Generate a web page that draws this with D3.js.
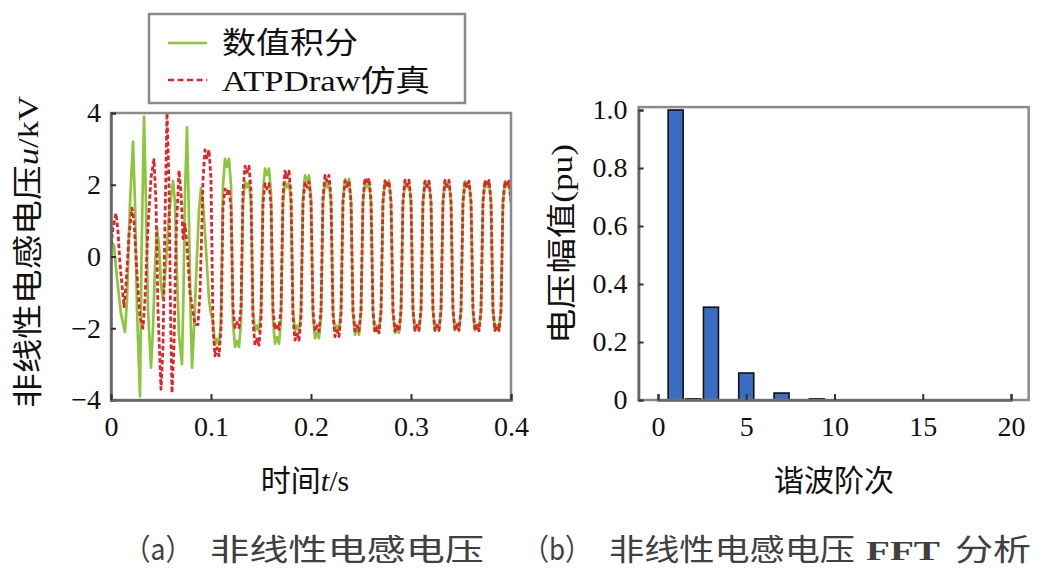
<!DOCTYPE html>
<html><head><meta charset="utf-8">
<script src="https://cdn.jsdelivr.net/npm/d3@7"></script>
<style>
html,body{margin:0;padding:0;background:#fff;}
svg{display:block;}
.cjk{font-family:"Liberation Serif","Noto Sans CJK SC",serif;}
</style>
</head><body>
<svg id="chart" width="1044" height="573"></svg>
<script>
// ---------------- DATA ----------------
// (a) time axis ticks (s) and voltage ticks (kV)
const timeTicks = [0, 0.1, 0.2, 0.3, 0.4];
const timeTickLabels = ["0", "0.1", "0.2", "0.3", "0.4"];
const voltTicks = [-4, -2, 0, 2, 4];
const voltTickLabels = ["\u22124", "\u22122", "0", "2", "4"];

// Numerical integration (green) – transient part: [time ms, u kV]
const greenEarly = [
  [0,0.45],[3,0.3],[6,-0.6],[10,-1.6],[14,-2.1],[16,-1.2],[19,1.5],[22,3.2],[24,1.5],[26,-1.5],
  [29,-3.9],[30.5,0],[33,3.9],[35,1.5],[37,-1.5],[40,-3.1],[42,-2.0],[44,-0.3],[46,0.8],[48,0.3],
  [50,-0.8],[52,-1.2],[55,-0.2],[58,1.2],[62,2.1],[64,1.5],[66,-0.5],[68,-2.2],[71,-3.0],[72.5,-1.0],
  [74,1.8],[76,3.6],[78,1.0],[79.5,-1.5],[81,-3.1],[83,-2.0],[86,0.0],[88,1.3],[90,1.9],[92,1.5],
  [95,0.2],[98,-1.2],[100,-1.6]
];
// Numerical integration (green) – later part, sampled every 2 ms from 102 ms
const greenLateStart = 102;
const greenLate = [
  -1.8,-2.47,-2.3,-2.47,-1.8,   1.98,2.72,2.5,2.72,1.98,
  -1.84,-2.52,-2.35,-2.52,-1.84, 1.51,2.08,1.93,2.08,1.51,
  -1.51,-2.08,-1.93,-2.08,-1.51, 1.78,2.45,2.27,2.45,1.78,
  -1.76,-2.43,-2.25,-2.43,-1.76, 1.51,2.08,1.93,2.08,1.51,
  -1.51,-2.08,-1.93,-2.08,-1.51, 1.64,2.26,2.1,2.26,1.64,
  -1.66,-2.28,-2.12,-2.28,-1.66, 1.51,2.08,1.93,2.08,1.51,
  -1.51,-2.08,-1.93,-2.08,-1.51, 1.57,2.16,2.0,2.16,1.57,
  -1.58,-2.18,-2.02,-2.18,-1.58, 1.51,2.08,1.93,2.08,1.51,
  -1.51,-2.08,-1.93,-2.08,-1.51, 1.54,2.12,1.97,2.12,1.54,
  -1.55,-2.13,-1.98,-2.13,-1.55, 1.51,2.08,1.93,2.08,1.51,
  -1.5,-2.06,-1.91,-2.06,-1.5,   1.52,2.1,1.94,2.1,1.52,
  -1.5,-2.06,-1.91,-2.06,-1.5,   1.52,2.1,1.94,2.1,1.52,
  -1.5,-2.06,-1.91,-2.06,-1.5,   1.52,2.1,1.94,2.1,1.52,
  -1.5,-2.06,-1.91,-2.06,-1.5,   1.52,2.1,1.94,2.1,1.52,
  -1.5,-2.06,-1.91,-2.06,-1.5,   1.52,2.1,1.94,2.1,1.52
];

// ATPDraw simulation (red dashed) – transient part: [time ms, u kV]
const redEarly = [
  [0,0.3],[2,0.8],[5,1.2],[7,0.7],[9,-0.2],[13,-1.4],[15,-0.8],[18,0.6],[21,1.35],[23,1.0],
  [26,-0.5],[29,-1.7],[32,-2.0],[34,-1.2],[37,0.8],[40,2.2],[43,2.7],[45,1.5],[47,-1.5],[50,-3.7],
  [52,-2.5],[54,1.0],[56,4.0],[58,2.0],[59.5,-1.5],[61,-3.8],[63,-2.5],[65,0.5],[68,2.4],[70,1.8],
  [72,0.5],[74,0.9],[76,0.3],[79,-1.0],[84,-1.9],[87,-1.9],[89,-1.0],[91,1.0]
];
// ATPDraw simulation (red dashed) – later part, sampled every 2 ms from 92 ms
const redLateStart = 92;
const redLate = [
  2.16,2.97,2.75,2.97,2.16,      -2.0,-2.77,-2.55,-2.77,-2.0,
  1.37,1.88,1.75,1.88,1.37,      -1.44,-1.98,-1.84,-1.98,-1.44,
  1.84,2.52,2.35,2.52,1.84,      -1.8,-2.47,-2.3,-2.47,-1.8,
  1.48,2.03,1.89,2.03,1.48,      -1.48,-2.03,-1.89,-2.03,-1.48,
  1.73,2.38,2.2,2.38,1.73,       -1.69,-2.33,-2.16,-2.33,-1.69,
  1.51,2.08,1.93,2.08,1.51,      -1.51,-2.08,-1.93,-2.08,-1.51,
  1.64,2.26,2.1,2.26,1.64,       -1.62,-2.23,-2.07,-2.23,-1.62,
  1.53,2.1,1.95,2.1,1.53,        -1.51,-2.08,-1.93,-2.08,-1.51,
  1.58,2.18,2.02,2.18,1.58,      -1.55,-2.13,-1.98,-2.13,-1.55,
  1.53,2.1,1.95,2.1,1.53,        -1.51,-2.08,-1.93,-2.08,-1.51,
  1.55,2.13,1.98,2.13,1.55,      -1.5,-2.06,-1.92,-2.06,-1.5,
  1.53,2.1,1.95,2.1,1.53,        -1.5,-2.06,-1.92,-2.06,-1.5,
  1.54,2.12,1.96,2.12,1.54,      -1.5,-2.06,-1.9,-2.06,-1.5,
  1.53,2.1,1.95,2.1,1.53,        -1.5,-2.07,-1.92,-2.07,-1.5,
  1.54,2.12,1.97,2.12,1.54,      -1.5,-2.06,-1.92,-2.06,-1.5,
  1.53,2.1,1.96,2.1,1.53
];
const lateStep = 2; // ms

// (b) FFT harmonics
const harmonicOrders = [1,2,3,4,5,6,7,8,9,10,11,12,13,14,15,16,17,18,19,20];
const harmonicAmps   = [1.0,0.004,0.32,0,0.093,0,0.024,0,0.004,0,0,0,0,0,0,0,0,0,0,0];
const orderTicks = [0, 5, 10, 15, 20];
const ampTicks = [0, 0.2, 0.4, 0.6, 0.8, 1.0];
const ampTickLabels = ["0", "0.2", "0.4", "0.6", "0.8", "1.0"];

const legendLabels = ["数值积分", "ATPDraw仿真"];
const captionA = ["（a）", "非线性电感电压"];
const captionB = ["（b）", "非线性电感电压", "FFT", "分析"];

// ---------------- DRAW ----------------
const svg = d3.select("#chart");
const GREEN = "#8cc63f", RED = "#e3232b", FRAME = "#8a8a8a", AXIS = "#666";

// ---- Panel (a) ----
const xL = d3.scaleLinear().domain([0, 0.4]).range([111, 511]);
const yL = d3.scaleLinear().domain([-4, 4]).range([400, 113]);

svg.append("defs").append("clipPath").attr("id","clipL")
  .append("rect").attr("x",xL(0)).attr("y",yL(4)-3).attr("width",xL(0.4)-xL(0)).attr("height",yL(-4)-yL(4)+6);

const greenData = greenEarly.concat(greenLate.map((u,i)=>[greenLateStart + i*lateStep, u]));
const redData = redEarly.concat(redLate.map((u,i)=>[redLateStart + i*lateStep, u]));
const line = d3.line().x(d=>xL(d[0]/1000)).y(d=>yL(d[1]));

const gL = svg.append("g").attr("clip-path","url(#clipL)");
gL.append("path").datum(greenData).attr("d",line)
  .attr("fill","none").attr("stroke",GREEN).attr("stroke-width",2.7).attr("stroke-linejoin","round");
gL.append("path").datum(redData).attr("d",line)
  .attr("fill","none").attr("stroke",RED).attr("stroke-width",2.8)
  .attr("stroke-dasharray","4.5,2.5").attr("stroke-linejoin","round");

// frame
svg.append("rect").attr("x",xL(0)).attr("y",yL(4)).attr("width",xL(0.4)-xL(0)).attr("height",yL(-4)-yL(4))
  .attr("fill","none").attr("stroke",FRAME).attr("stroke-width",2.5);

const axL = svg.append("g").attr("transform",`translate(${xL(0)},0)`)
  .call(d3.axisLeft(yL).tickValues(voltTicks).tickFormat((d,i)=>voltTickLabels[i]).tickSize(-5).tickPadding(10));
const axB = svg.append("g").attr("transform",`translate(0,${yL(-4)})`)
  .call(d3.axisBottom(xL).tickValues(timeTicks).tickFormat((d,i)=>timeTickLabels[i]).tickSize(-6).tickPadding(16));

// ---- Panel (b) ----
const xR = d3.scaleLinear().domain([0, 20]).range([658, 1011]);
const yR = d3.scaleLinear().domain([0, 1]).range([400, 110]);
const barW = xR(0.85) - xR(0);
const bars = harmonicOrders.map((h,i)=>({h, a:harmonicAmps[i]})).filter(d=>d.a>0);
svg.append("g").selectAll("rect").data(bars).join("rect")
  .attr("x",d=>xR(d.h)-barW/2).attr("width",barW)
  .attr("y",d=>yR(d.a)).attr("height",d=>Math.max(yR(0)-yR(d.a),1))
  .attr("fill","#3a6cc2").attr("stroke","#111").attr("stroke-width",1.6);

svg.append("rect").attr("x",xR(-1.1)).attr("y",yR(1.01)).attr("width",xR(21)-xR(-1.1)).attr("height",yR(0)-yR(1.01))
  .attr("fill","none").attr("stroke",FRAME).attr("stroke-width",2.5);

const axRL = svg.append("g").attr("transform",`translate(${xR(-1.1)},0)`)
  .call(d3.axisLeft(yR).tickValues(ampTicks).tickFormat((d,i)=>ampTickLabels[i]).tickSize(-5).tickPadding(11));
const axRB = svg.append("g").attr("transform",`translate(0,${yR(0)})`)
  .call(d3.axisBottom(xR).tickValues(orderTicks).tickFormat(d3.format("d")).tickSize(-6).tickPadding(16));

[axL, axB, axRL, axRB].forEach(a=>{
  a.select(".domain").attr("stroke",AXIS).attr("stroke-width",2.5);
  a.selectAll(".tick line").attr("stroke","#333").attr("stroke-width",2);
  a.selectAll(".tick text").attr("font-family","'Liberation Serif',serif").attr("font-size",28).attr("fill","#111");
});

// ---- axis titles ----
const tL = svg.append("text").attr("class","cjk").attr("font-size",30).attr("fill","#111")
  .attr("text-anchor","middle").attr("transform","translate(38,252) rotate(-90)")
  .attr("textLength",312).attr("lengthAdjust","spacingAndGlyphs");
tL.append("tspan").text("非线性电感电压");
tL.append("tspan").attr("font-style","italic").text("u");
tL.append("tspan").text("/kV");

const tB = svg.append("text").attr("class","cjk").attr("font-size",30).attr("fill","#111")
  .attr("text-anchor","middle").attr("x",305).attr("y",491);
tB.append("tspan").text("时间");
tB.append("tspan").attr("font-style","italic").text("t");
tB.append("tspan").text("/s");

svg.append("text").attr("class","cjk").attr("font-size",30).attr("fill","#111")
  .attr("text-anchor","middle").attr("transform","translate(572,244) rotate(-90)")
  .attr("textLength",200).attr("lengthAdjust","spacingAndGlyphs").text("电压幅值(pu)");

svg.append("text").attr("class","cjk").attr("font-size",30).attr("fill","#111")
  .attr("text-anchor","middle").attr("x",834).attr("y",491).text("谐波阶次");

// ---- legend ----
const lg = svg.append("g");
lg.append("rect").attr("x",149).attr("y",14).attr("width",316).attr("height",89)
  .attr("fill","#fff").attr("stroke",FRAME).attr("stroke-width",2.5);
lg.append("line").attr("x1",168).attr("x2",207).attr("y1",43).attr("y2",43)
  .attr("stroke",GREEN).attr("stroke-width",2.5);
lg.append("line").attr("x1",168).attr("x2",207).attr("y1",80).attr("y2",80)
  .attr("stroke",RED).attr("stroke-width",2.6).attr("stroke-dasharray","6,3.5");
lg.append("text").attr("class","cjk").attr("font-size",30).attr("fill","#111")
  .attr("x",222).attr("y",53).attr("textLength",136).attr("lengthAdjust","spacingAndGlyphs").text(legendLabels[0]);
lg.append("text").attr("class","cjk").attr("font-size",30).attr("fill","#111")
  .attr("x",222).attr("y",91).attr("textLength",208).attr("lengthAdjust","spacingAndGlyphs").text(legendLabels[1]);

// ---- captions ----
const capFont = "'Noto Sans CJK SC',sans-serif", capCol = "#404040";
function cap(txt, x, len, opts={}) {
  svg.append("text").attr("font-family",opts.family||capFont).attr("font-size",opts.size||30)
    .attr("font-weight",opts.weight||400).attr("fill",capCol)
    .attr("x",x).attr("y",560).attr("textLength",len).attr("lengthAdjust","spacingAndGlyphs").text(txt);
}
cap(captionA[0], 124, 68);
cap(captionA[1], 210, 274);
cap(captionB[0], 523, 68);
cap(captionB[1], 609, 246);
cap(captionB[2], 866, 74, {family:"'Liberation Serif',serif", weight:700, size:28});
cap(captionB[3], 955, 76);
</script>
</body></html>
